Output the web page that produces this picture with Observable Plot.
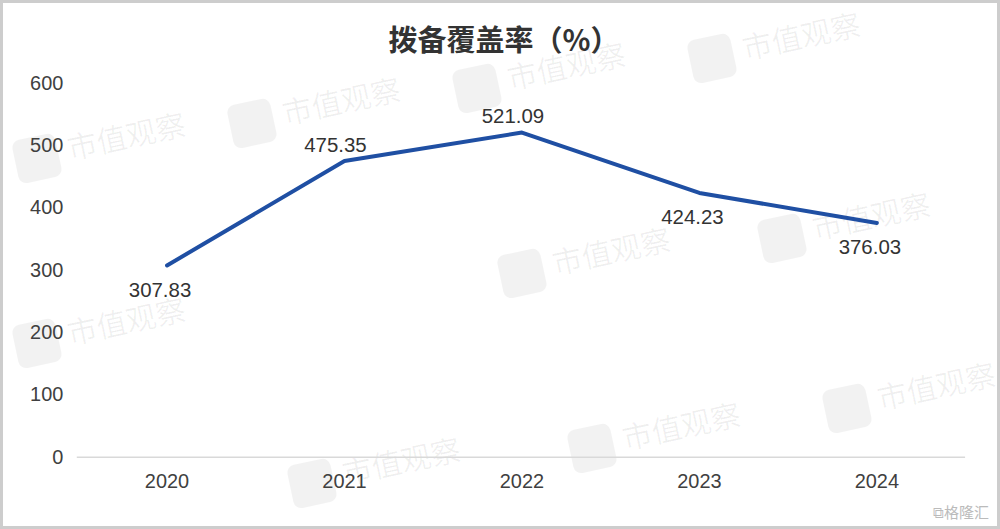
<!DOCTYPE html>
<html>
<head>
<meta charset="utf-8">
<script src="https://cdn.jsdelivr.net/npm/d3@7"></script>
<script src="https://cdn.jsdelivr.net/npm/@observablehq/plot@0.6"></script>
<style>
  html, body { margin: 0; padding: 0; background: #fff; }
  #wrap { position: relative; width: 1000px; height: 529px; box-sizing: border-box;
          border: 3px solid #cdcdcd; overflow: hidden; background: #fff; }
  #title { position: absolute; top: 20px; left: 0; width: 994px; padding-left: 8px; box-sizing: border-box;
           text-align: center; font-family: "Noto Sans CJK SC", sans-serif; font-weight: bold;
           font-size: 29px; line-height: 30px; color: #333; }
  #chart { position: absolute; left: -3px; top: 52px; }
  .wm { position: absolute; font-family: "Noto Sans CJK SC", sans-serif; font-size: 30px;
        color: rgba(0,0,0,0.06); transform: rotate(-12deg); white-space: nowrap; }
  .wm::before { content: ""; display: inline-block; width: 44px; height: 44px; border-radius: 8px;
        background: rgba(0,0,0,0.05); vertical-align: middle; margin-right: 10px; }
  #glh { position: absolute; right: 8px; bottom: 4px; font-family: "Noto Sans CJK SC", sans-serif;
         font-size: 15px; color: #bbb; }
</style>
</head>
<body>
<div id="wrap">
  <div class="wm" style="left:225px;top:80px">市值观察</div>
  <div class="wm" style="left:450px;top:45px">市值观察</div>
  <div class="wm" style="left:685px;top:15px">市值观察</div>
  <div class="wm" style="left:10px;top:115px">市值观察</div>
  <div class="wm" style="left:495px;top:230px">市值观察</div>
  <div class="wm" style="left:10px;top:300px">市值观察</div>
  <div class="wm" style="left:755px;top:195px">市值观察</div>
  <div class="wm" style="left:565px;top:405px">市值观察</div>
  <div class="wm" style="left:285px;top:440px">市值观察</div>
  <div class="wm" style="left:820px;top:365px">市值观察</div>
  <div id="title">拨备覆盖率（%）</div>
  <div id="chart"></div>
  <div id="glh">⧉格隆汇</div>
</div>
<script>
const years = ["2020", "2021", "2022", "2023", "2024"];
const coverage = [307.83, 475.35, 521.09, 424.23, 376.03];
const labelSide = ["below", "above", "above", "below", "below"];
const yTicks = [0, 100, 200, 300, 400, 500, 600];

const data = years.map((y, i) => ({year: y, value: coverage[i], side: labelSide[i]}));

const chart = Plot.plot({
  width: 1000,
  height: 470,
  marginTop: 28,
  marginBottom: 67,
  marginLeft: 77,
  marginRight: 32,
  style: {fontFamily: "'Liberation Sans', Arial, sans-serif", fontSize: "20px", background: "transparent"},
  x: {type: "point", domain: years, padding: 0.5, label: null},
  y: {domain: [0, 600], label: null},
  marks: [
    Plot.ruleY([0], {stroke: "#d9d9d9", strokeWidth: 1.5}),
    Plot.axisY({ticks: yTicks, tickSize: 0, tickPadding: 14, color: "#404040", label: null, fontSize: 20}),
    Plot.axisX({tickSize: 0, tickPadding: 17, color: "#404040", label: null, fontSize: 20}),
    Plot.line(data, {x: "year", y: "value", stroke: "#1f4fa3", strokeWidth: 4, strokeLinejoin: "round", strokeLinecap: "round"}),
    Plot.text(data.filter(d => d.side === "above"), {x: "year", y: "value", text: d => d.value.toFixed(2), dy: -16, dx: -9, fill: "#333", fontSize: 20.5}),
    Plot.text(data.filter(d => d.side === "below"), {x: "year", y: "value", text: d => d.value.toFixed(2), dy: 25, dx: -7, fill: "#333", fontSize: 20.5})
  ]
});
document.getElementById("chart").appendChild(chart);
</script>
</body>
</html>
